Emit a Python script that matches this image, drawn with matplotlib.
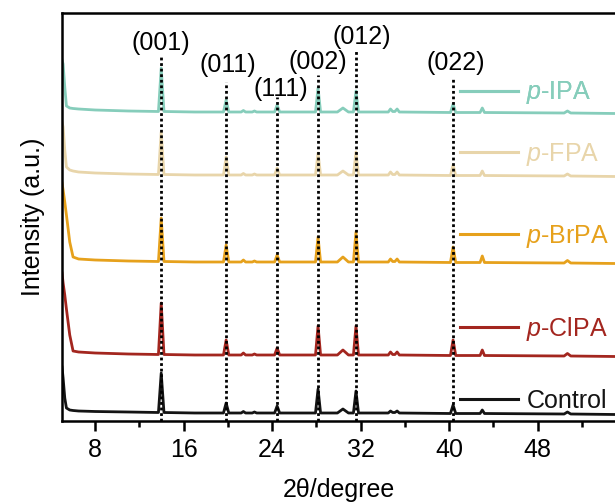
import matplotlib
matplotlib.use("Agg")
import matplotlib.pyplot as plt
from matplotlib.lines import Line2D

plt.rcParams['font.family'] = ['Liberation Sans', 'DejaVu Sans']
plt.rcParams['mathtext.fontset'] = 'custom'
plt.rcParams['mathtext.rm'] = 'Liberation Sans'
plt.rcParams['mathtext.it'] = 'Liberation Sans:italic'

# 2theta points (degree)
two_theta = [5.0, 5.1, 5.25, 5.4, 5.7, 6.0, 6.5, 8.0, 11.0,
             13.72, 13.97, 14.22, 17.0,
             19.6, 19.84, 20.08,
             21.2, 21.4, 21.6, 22.2, 22.4, 22.6,
             24.22, 24.45, 24.68,
             27.92, 28.15, 28.38,
             29.9, 30.4, 30.9,
             31.35, 31.58, 31.81,
             34.5, 34.7, 34.9, 35.1, 35.3, 35.5,
             40.12, 40.36, 40.6,
             42.8, 43.0, 43.2,
             50.4, 50.7, 51.0, 55.0]

# intensities (a.u.) relative to each baseline
control = [46, 35, 15, 5, 3, 2.5, 2, 1.5, 1,
           0.5, 40, 0.5, 0,
           0, 10, 0,
           0, 1.5, 0, 0, 1, 0,
           0, 7, 0,
           0, 24, 0,
           0, 4, 0,
           0, 22, 0,
           0, 2, 0.5, 0.5, 2, 0,
           -0.5, 8, -0.5,
           -0.5, 3, -0.5,
           -1, 1, -1, -1.5]
clpa = [82, 72, 60, 46, 20, 4, 3, 2, 1,
        0.5, 52, 0.5, 0,
        0, 15, 0,
        0, 2, 0, 0, 1, 0,
        0, 7, 0,
        0, 29, 0,
        0, 5, 0,
        0, 29, 0,
        0, 3, 0.5, 0.5, 3, 0,
        -0.5, 15, -0.5,
        -0.5, 5, -0.5,
        -1, 1.5, -1, -1.5]
brpa = [79, 72, 60, 47, 20, 5, 3, 2, 1,
        0.5, 44, 0.5, 0,
        0, 17, 0,
        0, 2, 0, 0, 1, 0,
        0, 7, 0,
        0, 25, 0,
        0, 5, 0,
        0, 30, 0,
        0, 3, 0.5, 0.5, 3, 0,
        -0.5, 15, -0.5,
        -0.5, 6, -0.5,
        -1, 1.5, -1, -1.5]
fpa = [53, 48, 25, 8, 5, 4, 3, 2, 1,
       0.5, 43, 0.5, 0,
       0, 18, 0,
       0, 1.5, 0, 0, 1, 0,
       0, 7, 0,
       0, 22, 0,
       0, 4, 0,
       0, 23, 0,
       0, 3, 0.5, 0.5, 3, 0,
       -0.5, 10, -0.5,
       -0.5, 4, -0.5,
       -1, 1, -1, -1.5]
ipa = [52, 48, 25, 6, 4, 3.5, 3, 2, 1,
       0.5, 44, 0.5, 0,
       0, 12, 0,
       0, 1.5, 0, 0, 1, 0,
       0, 7, 0,
       0, 24, 0,
       0, 4, 0,
       0, 21, 0,
       0, 3, 0.5, 0.5, 3, 0,
       -0.5, 8, -0.5,
       -0.5, 4, -0.5,
       -1, 1, -1, -1.5]

labels = ['Control', r'$\mathit{p}$-ClPA', r'$\mathit{p}$-BrPA', r'$\mathit{p}$-FPA', r'$\mathit{p}$-IPA']
colors = ['#141414', '#A3261F', '#E6A11C', '#E8D5AA', '#86CDBB']
offsets = [8, 66, 159, 246, 309]
legend_y = [20, 92, 185, 267, 328]

planes = ['(001)', '(011)', '(111)', '(002)', '(012)', '(022)']
plane_pos = [13.97, 19.84, 24.45, 28.15, 31.58, 40.36]
line_top = [366, 339, 324, 346, 371, 342]
label_x = [13.95, 20.0, 24.8, 28.15, 32.1, 40.6]
label_y = [378, 356, 332, 359, 384, 358]

fig = plt.figure(figsize=(6.15, 5.04), dpi=100)
ax = fig.add_axes([62 / 615, 83 / 504, 553 / 615, 408 / 504])

series = [control, clpa, brpa, fpa, ipa]
for vals, off, col, lab, ly in zip(series, offsets, colors, labels, legend_y):
    ax.plot(two_theta, [v + off for v in vals], color=col, lw=2.0)
    h = Line2D([], [], color=col, lw=2.2)
    leg = ax.legend([h], [lab], loc='center left', bbox_to_anchor=(41.0, ly),
                    bbox_transform=ax.transData, frameon=False, fontsize=18,
                    handlelength=2.3, handletextpad=0.35, borderpad=0,
                    borderaxespad=0, labelcolor='linecolor')
    ax.add_artist(leg)

ax.vlines(plane_pos, 0, line_top, colors='black', linestyles=(0, (1, 1)), lw=2.0)
for name, lx, ly in zip(planes, label_x, label_y):
    ax.text(lx, ly, name, ha='center', va='center', fontsize=18)

ax.set_xlim(5, 55)
ax.set_ylim(0, 408)
ax.set_xticks([8, 16, 24, 32, 40, 48])
ax.set_xticks([12, 20, 28, 36, 44, 52], minor=True)
ax.set_yticks([])
ax.tick_params(axis='x', which='major', direction='out', length=7, width=1.8, labelsize=18, pad=5)
ax.tick_params(axis='x', which='minor', direction='out', length=4, width=1.8)
for s in ['left', 'bottom', 'top']:
    ax.spines[s].set_linewidth(1.8)
ax.spines['right'].set_visible(False)

ax.set_xlabel('2θ/degree', fontsize=18, labelpad=12)
ax.set_ylabel('Intensity (a.u.)', fontsize=18, labelpad=12)

fig.savefig('out.png', dpi=100)
